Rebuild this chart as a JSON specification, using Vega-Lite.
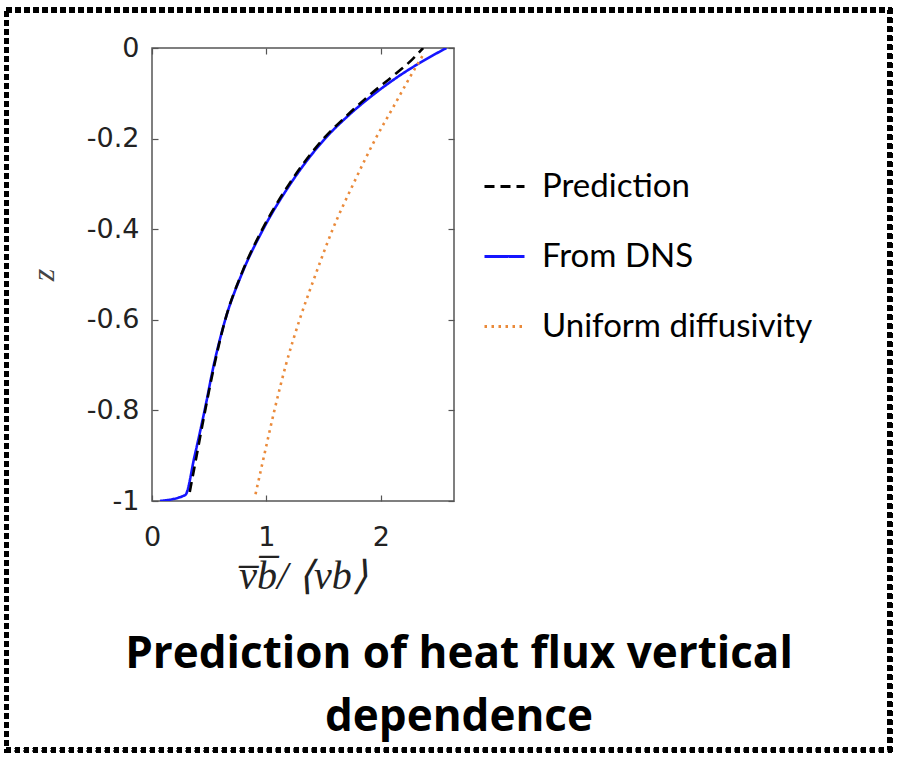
{
  "$schema": "https://vega.github.io/schema/vega-lite/v6.json",
  "width": 302,
  "height": 453,
  "autosize": {"type": "none"},
  "padding": {"left": 152, "top": 48, "right": 448, "bottom": 256},
  "background": "white",
  "config": {
    "view": {"stroke": "#555555", "strokeWidth": 1.5},
    "axis": {"grid": false, "domain": false}
  },
  "title": {
    "text": ["Prediction of heat flux vertical", "\u00a0\u00a0\u00a0dependence"],
    "orient": "bottom",
    "anchor": "middle",
    "font": "Open Sans",
    "fontWeight": "bold",
    "fontSize": 44,
    "color": "black",
    "lineHeight": 63,
    "dx": 156,
    "offset": -119
  },
  "datasets": {
    "curves": [
      {"series": "From DNS", "x": 0.07, "z": -1.0},
      {"series": "From DNS", "x": 0.29, "z": -0.987},
      {"series": "From DNS", "x": 0.373, "z": -0.9},
      {"series": "From DNS", "x": 0.46, "z": -0.8},
      {"series": "From DNS", "x": 0.54, "z": -0.7},
      {"series": "From DNS", "x": 0.64, "z": -0.6},
      {"series": "From DNS", "x": 0.783, "z": -0.5},
      {"series": "From DNS", "x": 0.972, "z": -0.4},
      {"series": "From DNS", "x": 1.21, "z": -0.3},
      {"series": "From DNS", "x": 1.513, "z": -0.2},
      {"series": "From DNS", "x": 1.713, "z": -0.15},
      {"series": "From DNS", "x": 1.95, "z": -0.1},
      {"series": "From DNS", "x": 2.17, "z": -0.06},
      {"series": "From DNS", "x": 2.36, "z": -0.03},
      {"series": "From DNS", "x": 2.574, "z": 0.0},
      {"series": "Prediction", "x": 0.33, "z": -0.98},
      {"series": "Prediction", "x": 0.39, "z": -0.9},
      {"series": "Prediction", "x": 0.465, "z": -0.8},
      {"series": "Prediction", "x": 0.545, "z": -0.7},
      {"series": "Prediction", "x": 0.64, "z": -0.6},
      {"series": "Prediction", "x": 0.78, "z": -0.5},
      {"series": "Prediction", "x": 0.965, "z": -0.4},
      {"series": "Prediction", "x": 1.2, "z": -0.3},
      {"series": "Prediction", "x": 1.5, "z": -0.2},
      {"series": "Prediction", "x": 1.7, "z": -0.15},
      {"series": "Prediction", "x": 1.92, "z": -0.1},
      {"series": "Prediction", "x": 2.11, "z": -0.061},
      {"series": "Prediction", "x": 2.28, "z": -0.024},
      {"series": "Prediction", "x": 2.37, "z": 0.0},
      {"series": "Uniform diffusivity", "x": 0.905, "z": -0.985},
      {"series": "Uniform diffusivity", "x": 0.98, "z": -0.9},
      {"series": "Uniform diffusivity", "x": 1.07, "z": -0.8},
      {"series": "Uniform diffusivity", "x": 1.17, "z": -0.7},
      {"series": "Uniform diffusivity", "x": 1.29, "z": -0.6},
      {"series": "Uniform diffusivity", "x": 1.43, "z": -0.5},
      {"series": "Uniform diffusivity", "x": 1.58, "z": -0.4},
      {"series": "Uniform diffusivity", "x": 1.76, "z": -0.3},
      {"series": "Uniform diffusivity", "x": 1.955, "z": -0.2},
      {"series": "Uniform diffusivity", "x": 2.11, "z": -0.13},
      {"series": "Uniform diffusivity", "x": 2.265, "z": -0.06},
      {"series": "Uniform diffusivity", "x": 2.375, "z": -0.013}
    ]
  },
  "data": {"name": "curves"},
  "resolve": {"axis": {"x": "independent", "y": "independent"}},
  "layer": [
    {
      "mark": {"type": "line", "strokeWidth": 2.6, "clip": true, "interpolate": "monotone"},
      "encoding": {
        "x": {
          "field": "x", "type": "quantitative",
          "scale": {"domain": [0, 2.64], "nice": false, "zero": false},
          "axis": {
            "orient": "bottom", "values": [0, 1, 2], "tickSize": -6, "tickColor": "#555555", "tickWidth": 1.2,
            "labelFlush": false, "labelExpr": "replace(format(datum.value, '~g'), '−', '-')",
            "labelFont": "DejaVu Sans", "labelFontSize": 27, "labelColor": "#222222", "labelPadding": 29,
            "title": "v̅b̅/ ⟨vb⟩", "titleFont": "Liberation Serif", "titleFontStyle": "italic", "titleFontWeight": "normal",
            "titleFontSize": 40, "titleColor": "#222222", "titlePadding": 6
          }
        },
        "y": {
          "field": "z", "type": "quantitative",
          "scale": {"domain": [-1, 0], "nice": false, "zero": false},
          "axis": {
            "orient": "left", "values": [-1, -0.8, -0.6, -0.4, -0.2, 0], "tickSize": -6, "tickColor": "#555555", "tickWidth": 1.2,
            "labelFlush": false, "labelExpr": "replace(format(datum.value, '~g'), '−', '-')",
            "labelFont": "DejaVu Sans", "labelFontSize": 27, "labelColor": "#222222", "labelPadding": 19,
            "title": "z", "titleFont": "Liberation Serif", "titleFontStyle": "italic", "titleFontWeight": "normal",
            "titleFontSize": 32, "titleColor": "#444444", "titlePadding": 26
          }
        },
        "order": {"field": "z", "type": "quantitative"},
        "color": {
          "field": "series", "type": "nominal",
          "scale": {"domain": ["Prediction", "From DNS", "Uniform diffusivity"], "range": ["#000000", "#1515ff", "#ea8a3a"]},
          "legend": {
            "title": null, "orient": "none", "legendX": 331, "legendY": 117,
            "symbolType": "stroke", "symbolSize": 1600, "symbolStrokeWidth": 3,
            "labelFont": "Lato", "labelFontSize": 33, "labelColor": "black", "labelOffset": 16,
            "rowPadding": 31, "labelLimit": 400
          }
        },
        "strokeDash": {
          "field": "series", "type": "nominal",
          "scale": {"domain": ["Prediction", "From DNS", "Uniform diffusivity"], "range": [[10, 6], [1, 0], [2.5, 4.5]]},
          "legend": {
            "title": null, "orient": "none", "legendX": 331, "legendY": 117,
            "symbolType": "stroke", "symbolSize": 1600, "symbolStrokeWidth": 3,
            "labelFont": "Lato", "labelFontSize": 33, "labelColor": "black", "labelOffset": 16,
            "rowPadding": 31, "labelLimit": 400
          }
        }
      }
    },
    {
      "mark": {"type": "line", "opacity": 0},
      "encoding": {
        "x": {
          "field": "x", "type": "quantitative",
          "axis": {"orient": "top", "values": [0, 1, 2], "tickSize": -6, "tickColor": "#555555", "tickWidth": 1.2, "labels": false, "title": null}
        },
        "y": {
          "field": "z", "type": "quantitative",
          "axis": {"orient": "right", "values": [-1, -0.8, -0.6, -0.4, -0.2, 0], "tickSize": -6, "tickColor": "#555555", "tickWidth": 1.2, "labels": false, "title": null}
        },
        "detail": {"field": "series"}
      }
    },
    {
      "mark": {"type": "rect", "clip": false, "fill": null, "filled": false, "stroke": "black", "strokeWidth": 4.5, "strokeDash": [5, 4]},
      "encoding": {
        "x": {"datum": -1.27, "type": "quantitative", "axis": null},
        "x2": {"datum": 6.45},
        "y": {"datum": 0.0839, "type": "quantitative", "axis": null},
        "y2": {"datum": -1.5497}
      }
    }
  ]
}
